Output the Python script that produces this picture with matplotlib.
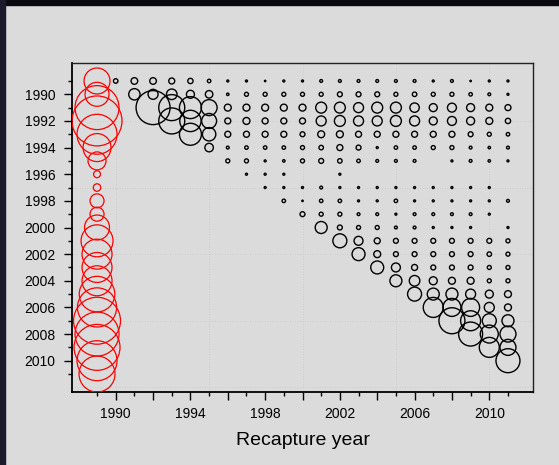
import matplotlib
matplotlib.use("Agg")
import matplotlib.pyplot as plt
from matplotlib.patches import Rectangle

plt.rcParams['font.family'] = ['Liberation Sans', 'DejaVu Sans']

# release cohorts (red column) and recaptures by later year (black bubbles)
release_years = list(range(1989, 2012))
releases = [169, 144, 484, 625, 400, 196, 81, 12, 14, 49, 49, 156,
            256, 225, 225, 225, 317, 384, 552, 484, 529, 400, 324]

# one row per release year 1989..2010, values for recapture years release+1 .. 2011
recaptures = [
    [5, 11, 11, 9, 7, 3, 1, 1, 0.5, 1, 1, 2, 2, 2, 2, 2, 2, 1, 2, 0.5, 1, 1],
    [32, 25, 28, 16, 14, 1.5, 4, 4, 4, 4, 4, 6, 6, 6, 4, 5, 4, 4, 3, 2, 1],
    [289, 169, 121, 64, 12, 12, 12, 12, 12, 30, 30, 25, 30, 30, 22, 16, 20, 16, 12, 9],
    [169, 114, 56, 9, 12, 9, 9, 9, 25, 30, 25, 25, 30, 25, 16, 20, 16, 12, 7],
    [121, 45, 9, 9, 9, 9, 6, 12, 12, 9, 9, 9, 9, 9, 9, 6, 4, 3],
    [18, 2, 3, 3, 3, 4, 5, 9, 6, 1, 3, 3, 4, 4, 2, 1.5, 2],
    [4, 4, 1, 1.5, 4, 6, 5, 3, 2, 2, 2, 0, 1, 2, 1.5, 1],
    [1, 1, 1, 0, 0, 1, 0, 0, 0, 0, 0, 0, 0, 0, 0],
    [1, 1, 1, 2, 1, 1, 1, 1, 1, 1, 1, 1, 1, 0],
    [3, 0.5, 3, 3, 1, 1, 3, 1, 1, 1, 1, 1, 2],
    [6, 4, 4, 2, 2, 1, 2, 2, 2, 2, 1, 0],
    [36, 6, 4, 4, 2, 2, 1, 1, 1, 0, 1],
    [49, 20, 9, 6, 6, 6, 6, 6, 6, 4],
    [42, 12, 6, 6, 6, 6, 6, 5, 4],
    [42, 20, 9, 6, 6, 6, 4, 4],
    [36, 28, 16, 12, 12, 4, 4],
    [49, 36, 36, 25, 16, 12],
    [100, 81, 81, 25, 12],
    [169, 100, 49, 36],
    [144, 81, 64],
    [100, 64],
    [144],
]

bg = '#dbdbdb'
fig = plt.figure(figsize=(5.59, 4.65), dpi=100, facecolor=bg)
ax = fig.add_axes([72 / 559, 73 / 465, 461 / 559, 329 / 465], facecolor=bg)

# dark frame on top and left edge
fig.patches.append(Rectangle((0, 1 - 5 / 465), 1, 5 / 465, transform=fig.transFigure,
                             color='#08080e', zorder=0))
fig.patches.append(Rectangle((0, 0), 5 / 559, 1, transform=fig.transFigure,
                             color='#1a1a2c', zorder=0))

scale = 2.07

xs, ys, ss = [], [], []
for i, row in enumerate(recaptures):
    rel = 1989 + i
    for k, v in enumerate(row):
        if v > 0:
            xs.append(rel + 1 + k)
            ys.append(rel)
            ss.append(v * scale)
ax.scatter(xs, ys, s=ss, facecolors='none', edgecolors='black', linewidths=1.0, zorder=3)

ax.scatter([1989] * len(release_years), release_years, s=[v * scale for v in releases],
           facecolors='none', edgecolors='red', linewidths=0.9, zorder=3)

for g in [1990, 1995, 2000, 2005, 2010]:
    ax.axvline(g, color='#cbcbcb', lw=0.6, ls=(0, (1, 2)), zorder=1)
for g in [1992, 1997, 2002, 2007, 2012]:
    ax.axhline(g, color='#cbcbcb', lw=0.6, ls=(0, (1, 2)), zorder=1)

ax.set_xlim(1987.66, 2012.34)
ax.set_ylim(2012.35, 1987.65)

xmaj = list(range(1990, 2012, 2))
ax.set_xticks(xmaj)
ax.set_xticklabels([str(y) if (y - 1990) % 4 == 0 else '' for y in xmaj])
ax.set_xticks(range(1989, 2012), minor=True)
ymaj = list(range(1990, 2012, 2))
ax.set_yticks(ymaj)
ax.set_yticklabels([str(y) for y in ymaj])
ax.set_yticks(range(1989, 2012), minor=True)

ax.tick_params(axis='both', which='major', direction='out', length=6, width=1,
               labelsize=10, color='black')
ax.tick_params(axis='both', which='minor', direction='out', length=3, width=1, color='black')
ax.tick_params(axis='x', which='major', pad=5)
ax.tick_params(axis='y', which='major', pad=6)

for side in ['left', 'bottom']:
    ax.spines[side].set_linewidth(1.3)
for side in ['top', 'right']:
    ax.spines[side].set_linewidth(1.0)
    ax.spines[side].set_color('#222222')

ax.set_xlabel('Recapture year', fontsize=14, labelpad=8)

fig.savefig('out.png', dpi=100, facecolor=bg)
